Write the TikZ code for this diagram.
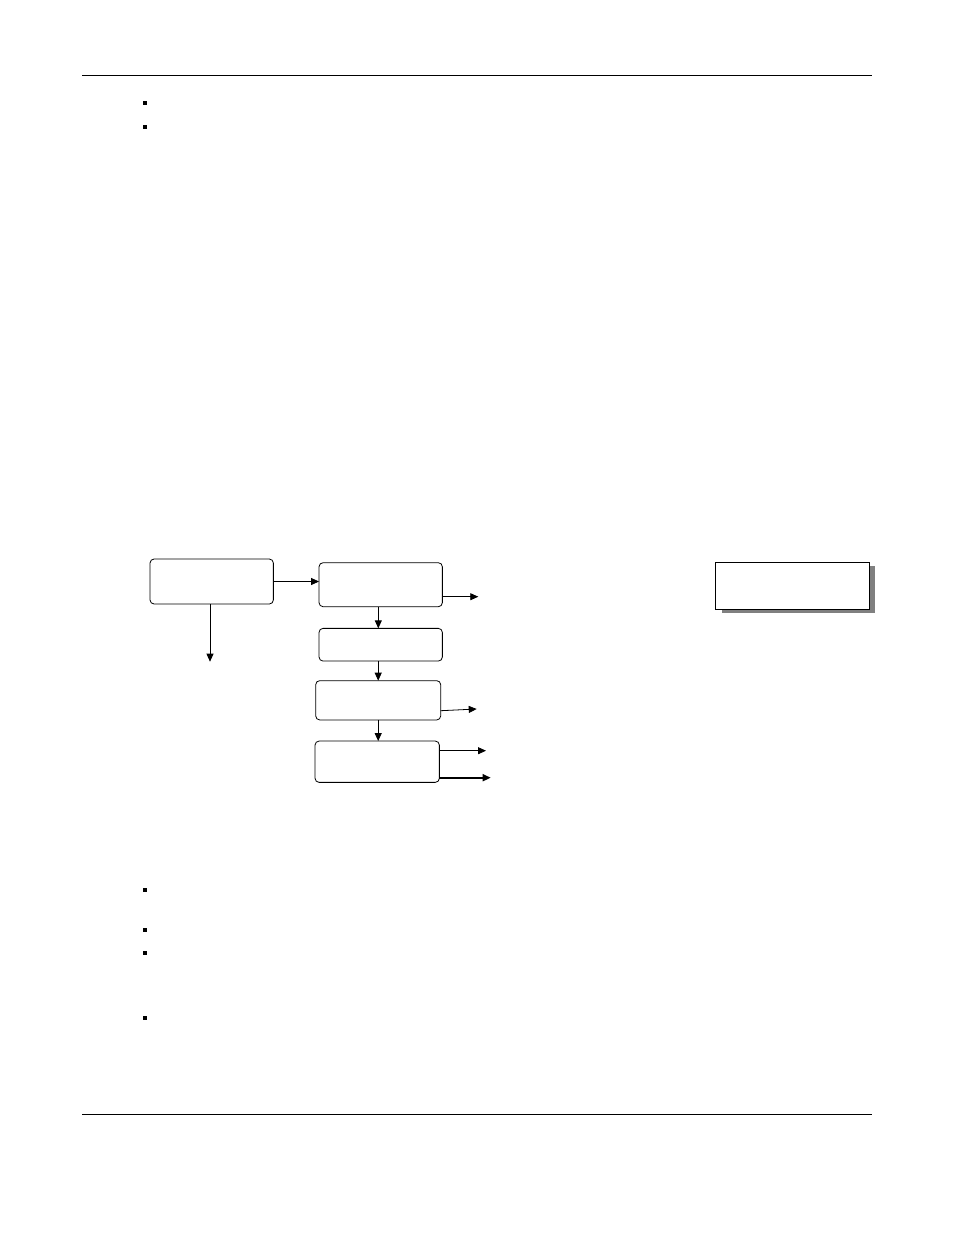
\documentclass[tikz,border=0pt]{standalone}
\usetikzlibrary{arrows.meta,calc}
\definecolor{shadowgray}{HTML}{808080}
\tikzset{
  flowbox/.style={draw, rounded corners=4pt, line width=0.8pt, inner sep=0pt, outer sep=0pt, fill=white},
  plainbox/.style={draw, line width=1.2pt, inner sep=0pt, outer sep=0pt, fill=white},
  flowarrow/.style={line width=0.8pt, -{Triangle[length=8pt,width=7pt]}},
  bulletsq/.style={fill=black, inner sep=0pt, minimum size=4pt},
  rule/.style={line width=0.9pt}
}
\begin{document}
\begin{tikzpicture}[x=1pt,y=-1pt]
\useasboundingbox (0,0) rectangle (954,1235);
% header / footer rules
\coordinate (r1a) at (82,75);  \coordinate (r1b) at (872,75);
\coordinate (r2a) at (82,1114); \coordinate (r2b) at (872,1114);
\draw[rule] (r1a) -- (r1b);
\draw[rule] (r2a) -- (r2b);
% bullets
\node[bulletsq] (b1) at (145,102.7) {};
\node[bulletsq] (b2) at (145,126.7) {};
\node[bulletsq] (b3) at (144.5,890.3) {};
\node[bulletsq] (b4) at (144.5,930.3) {};
\node[bulletsq] (b5) at (144.5,953.3) {};
\node[bulletsq] (b6) at (144.5,1018.3) {};
% flow boxes
\node[flowbox, minimum width=123.3pt, minimum height=45pt] (A) at (211.7,581.5) {};
\node[flowbox, minimum width=123.3pt, minimum height=44pt] (B) at (380.7,584.7) {};
\node[flowbox, minimum width=123.3pt, minimum height=32.7pt] (C) at (380.7,644.7) {};
\node[flowbox, minimum width=125pt, minimum height=39.3pt] (D) at (378.2,700.3) {};
\node[flowbox, minimum width=124.3pt, minimum height=41.3pt] (E) at (377.2,761.7) {};
% shadowed box
\fill[shadowgray] (721.7,566.2) rectangle (875.3,612.7);
\node[plainbox, minimum width=153.6pt, minimum height=46.6pt] (F) at (792.5,586) {};
% free ends
\coordinate (bo) at (478.3,596.7);
\coordinate (ad) at (210,661.7);
\coordinate (do) at (476.7,709);
\coordinate (e1) at (486,750.7);
\coordinate (e2) at (490.7,777.7);
% connectors
\draw[flowarrow] (A.east) -- (A.east -| B.west);
\draw[flowarrow] ([yshift=-12pt]B.east) -- (bo);
\draw[flowarrow] ([xshift=-1.7pt]A.south) -- (ad);
\draw[flowarrow] ([xshift=-2.4pt]B.south) -- ([xshift=-2.4pt]B.south |- C.north);
\draw[flowarrow] (D.north |- C.south) -- (D.north);
\draw[flowarrow] (D.south) -- (D.south |- E.north);
\draw[flowarrow] ([yshift=-10.4pt]D.east) -- (do);
\draw[flowarrow] ([yshift=11pt]E.east) -- (e1);
\draw[flowarrow, line width=1.6pt] ([yshift=-16pt]E.east) -- (e2);
\end{tikzpicture}
\end{document}
